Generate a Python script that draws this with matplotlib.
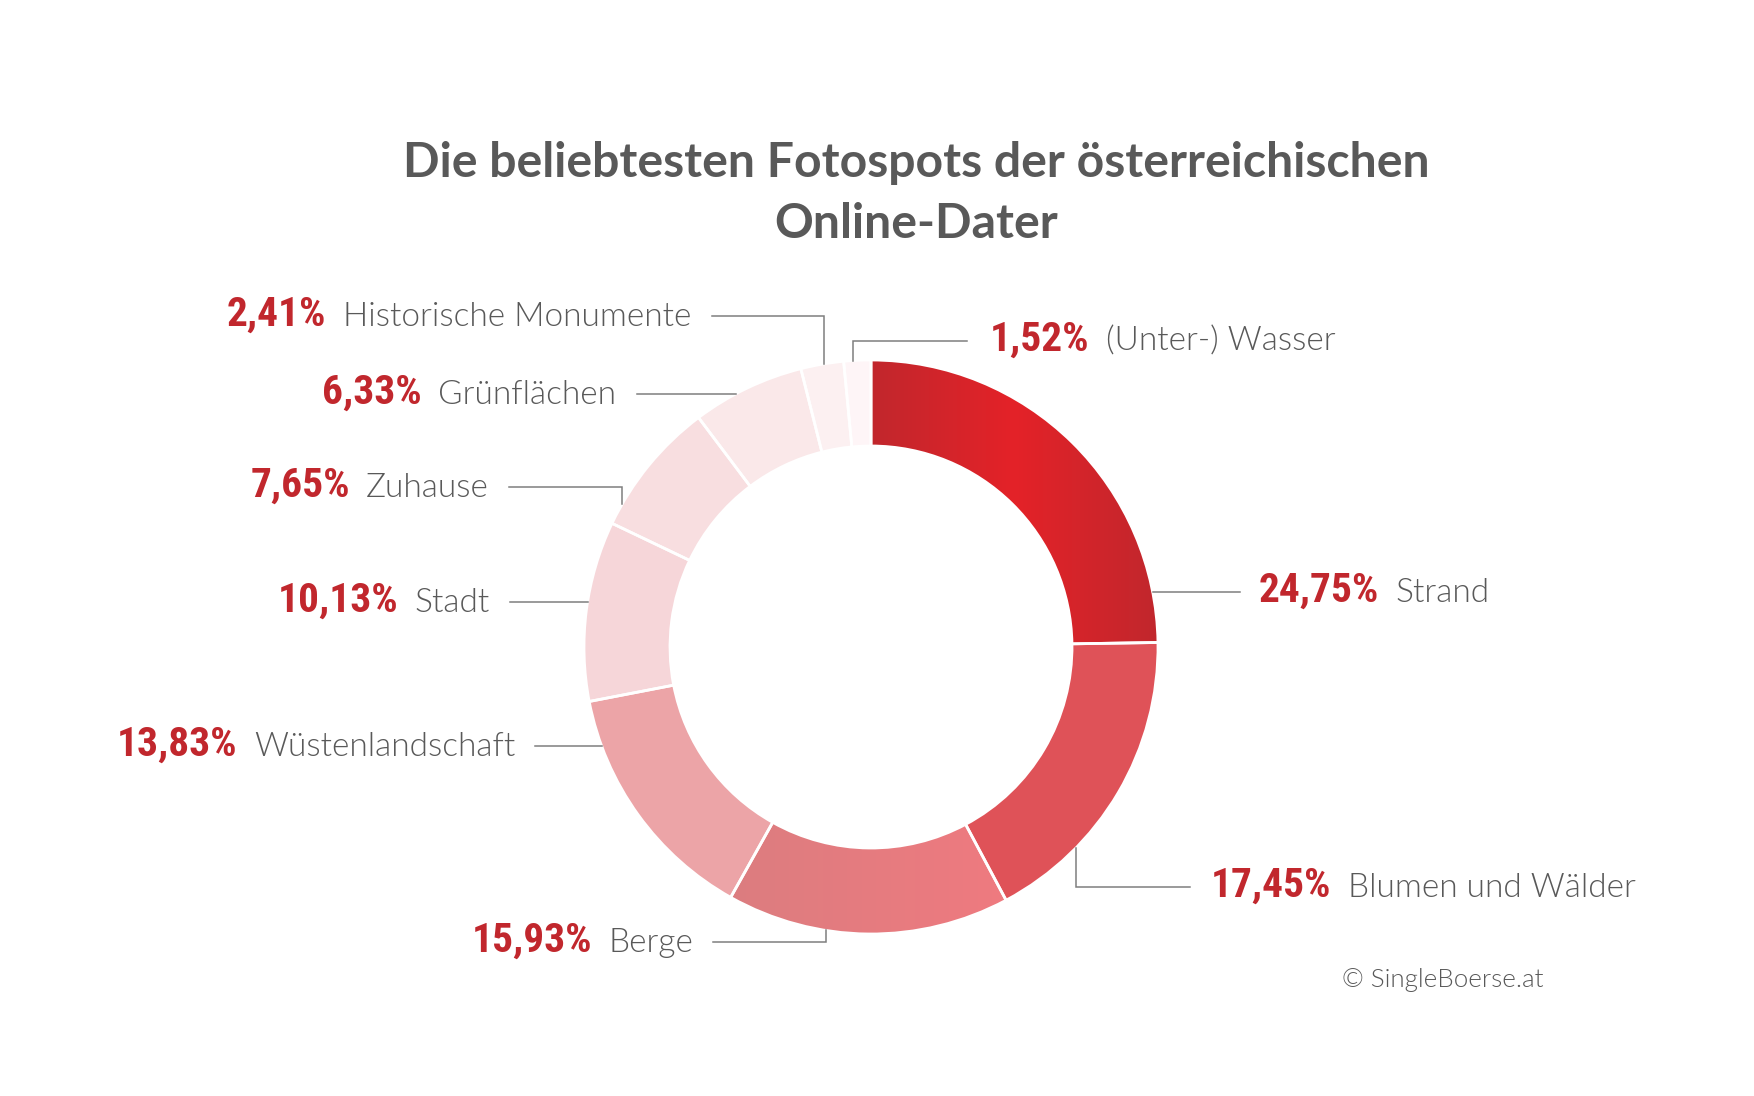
import matplotlib
matplotlib.use("Agg")
import matplotlib.pyplot as plt
from matplotlib import font_manager as fm
from matplotlib.font_manager import FontProperties
from matplotlib.colors import LinearSegmentedColormap
import numpy as np

# ---------------- data ----------------
categories = ["Strand", "Blumen und Wälder", "Berge", "Wüstenlandschaft", "Stadt",
              "Zuhause", "Grünflächen", "Historische Monumente", "(Unter-) Wasser"]
values = [24.75, 17.45, 15.93, 13.83, 10.13, 7.65, 6.33, 2.41, 1.52]
value_labels = ["24,75%", "17,45%", "15,93%", "13,83%", "10,13%",
                "7,65%", "6,33%", "2,41%", "1,52%"]
title_lines = ["Die beliebtesten Fotospots der österreichischen", "Online-Dater"]
source_text = "© SingleBoerse.at"

# ---------------- styles ----------------
slice_colors = ["#D8232A", "#DF5258", "#E77B7F", "#ECA4A7", "#F6D6D9",
                "#F8DEE0", "#FAE8E9", "#FCF0F1", "#FEF5F7"]
gradients = {0: ["#C1272D", "#E42228", "#C1272D"], 2: ["#DC7D80", "#EF7A7F"]}
RED = "#C1272D"
GRAY = "#595959"
LEADER = "#7F7F7F"

W, H = 1754, 1096
CX, CY = 871, 647          # donut centre (pixels, top origin)
R_OUT, R_IN = 287, 201

# label layout: side, text anchor x, baseline y, leader y, leader text-side x, elbow x
layout = [
    ("right", 1259, 602, 592, 1240, None),   # Strand
    ("right", 1211, 897, 887, 1190, 1076),   # Blumen
    ("left",  693,  952, 942, 713,  826),    # Berge
    ("left",  515,  756, 746, 535,  None),   # Wüsten
    ("left",  490,  612, 602, 510,  None),   # Stadt
    ("left",  489,  497, 487, 509,  622),    # Zuhause
    ("left",  616,  404, 394, 637,  None),   # Grünflächen
    ("left",  691,  326, 316, 712,  824),    # Historische
    ("right", 990,  351, 341, 967,  853),    # Wasser
]
GAP = 16


def has_font(name, weight=None, stretch=None):
    for f in fm.fontManager.ttflist:
        if f.name != name or f.style != "normal":
            continue
        w = f.weight if isinstance(f.weight, (int, float)) else fm.weight_dict.get(f.weight, 400)
        if weight is not None and abs(w - weight) > 50:
            continue
        if stretch is not None and f.stretch != stretch:
            continue
        return True
    return False


def pick(cands, default):
    for name, w, st in cands:
        if has_font(name, w, st):
            kw = dict(family=name, weight=w)
            if st:
                kw["stretch"] = st
            return FontProperties(**kw)
    return FontProperties(**default)


fp_num = pick([("Roboto Condensed", 700, None), ("Liberation Sans Narrow", 700, None),
               ("DejaVu Sans", 700, "condensed"), ("Noto Sans", 700, "condensed")],
              dict(family="Lato", weight="bold"))
fp_cat = pick([("Lato", 300, None), ("Open Sans", 300, None), ("Roboto", 300, None),
               ("Noto Sans", 300, None)], dict(family="Lato", weight="normal"))
fp_title = pick([("Lato", 700, None), ("Open Sans", 700, None)], dict(family="DejaVu Sans", weight="bold"))

fig = plt.figure(figsize=(W / 100, H / 100), dpi=100)
ax = fig.add_axes([0, 0, 1, 1])
ax.set_axis_off()


def Y(y):
    return H - y


# ---------------- donut ----------------
wedges, _ = ax.pie(values, colors=slice_colors, startangle=90, counterclock=False,
                   radius=R_OUT, center=(CX, Y(CY)),
                   wedgeprops=dict(width=R_OUT - R_IN, linewidth=0))
for i, stops in gradients.items():
    wd = wedges[i]
    v = wd.get_path().vertices
    x0, x1 = v[:, 0].min(), v[:, 0].max()
    y0, y1 = v[:, 1].min(), v[:, 1].max()
    cmap = LinearSegmentedColormap.from_list("g%d" % i, stops)
    im = ax.imshow(np.linspace(0, 1, 256).reshape(1, -1), cmap=cmap,
                   extent=[x0, x1, y0, y1], aspect="auto", interpolation="bilinear", zorder=2)
    im.set_clip_path(wd)
edges, _ = ax.pie(values, colors=["none"] * len(values), startangle=90, counterclock=False,
                  radius=R_OUT, center=(CX, Y(CY)),
                  wedgeprops=dict(width=R_OUT - R_IN, linewidth=2.0, edgecolor="white"))
for e in edges:
    e.set_zorder(3)

ax.set_xlim(0, W)
ax.set_ylim(0, H)
ax.set_aspect("equal")

fig.canvas.draw()
renderer = fig.canvas.get_renderer()


def width_of(s, fp, size):
    t = ax.text(0, 0, s, fontproperties=fp, fontsize=size)
    w = t.get_window_extent(renderer).width
    t.remove()
    return w


# fit font sizes to reference widths
num_size = 1.07 * 30 * (114 + 112 + 112) / sum(width_of(s, fp_num, 30) for s in ["24,75%", "17,45%", "15,93%"])
cat_size = 30 * (95 + 292 + 85 + 224) / sum(width_of(s, fp_cat, 30) for s in
                                           ["Strand", "Blumen und Wälder", "Berge", "(Unter-) Wasser"])
title_size = 30 * 1027 / width_of(title_lines[0], fp_title, 30)
src_size = 30 * 201 / width_of(source_text, fp_cat, 30)

# ---------------- labels & leaders ----------------
for cat, lab, (side, ax_x, base, ly, lx, elbow) in zip(categories, value_labels, layout):
    if side == "right":
        t = ax.text(ax_x, Y(base), lab, fontproperties=fp_num, fontsize=num_size,
                    color=RED, ha="left", va="baseline")
        x_end = t.get_window_extent(renderer).x1
        ax.text(x_end + GAP, Y(base), cat, fontproperties=fp_cat, fontsize=cat_size,
                color=GRAY, ha="left", va="baseline")
    else:
        t = ax.text(ax_x, Y(base), cat, fontproperties=fp_cat, fontsize=cat_size,
                    color=GRAY, ha="right", va="baseline")
        x_start = t.get_window_extent(renderer).x0
        ax.text(x_start - GAP, Y(base), lab, fontproperties=fp_num, fontsize=num_size,
                color=RED, ha="right", va="baseline")
    # leader
    if elbow is None:
        dx = np.sqrt(R_OUT ** 2 - (ly - CY) ** 2)
        xc = CX + dx if lx > CX else CX - dx
        xs, ys = [lx, xc], [ly, ly]
    else:
        dy = np.sqrt(R_OUT ** 2 - (elbow - CX) ** 2)
        yc = CY + dy if ly > CY else CY - dy
        xs, ys = [lx, elbow, elbow], [ly, ly, yc]
    ax.plot(xs, [Y(y) for y in ys], color=LEADER, lw=1.1, solid_joinstyle="miter", zorder=4)

# ---------------- title & source ----------------
for line, base in zip(title_lines, [177, 238]):
    ax.text(916, Y(base), line, fontproperties=fp_title, fontsize=title_size,
            color=GRAY, ha="center", va="baseline")
ax.text(1342, Y(987), source_text, fontproperties=fp_cat, fontsize=src_size,
        color=GRAY, ha="left", va="baseline")

fig.savefig("out.png", dpi=100, facecolor="white")
